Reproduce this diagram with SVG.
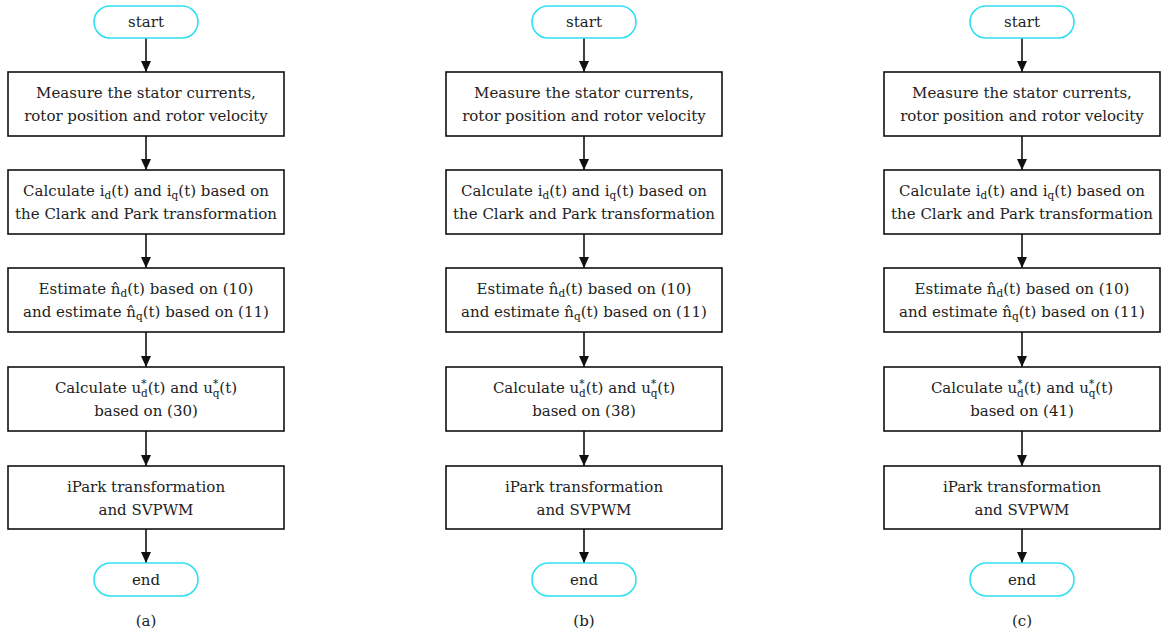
<svg xmlns="http://www.w3.org/2000/svg" width="1163" height="639" viewBox="0 0 1163 639">
<defs>
<style>
text{font-family:'DejaVu Serif','Liberation Serif',serif;font-size:15px;fill:#222;text-anchor:middle}
.s{font-size:10.5px}
.box{fill:#fff;stroke:#111;stroke-width:1.6}
.term{fill:#fff;stroke:#2ee0f2;stroke-width:1.6}
.c{stroke:#111;stroke-width:1.6;fill:none;marker-end:url(#ah)}
</style>
<marker id="ah" markerUnits="userSpaceOnUse" markerWidth="12" markerHeight="12" viewBox="0 0 12 12" refX="11" refY="6" orient="auto">
<path d="M0,1 L11,6 L0,11 Z" fill="#111"/>
</marker>
</defs>
<rect width="1163" height="639" fill="#fff"/>

<g id="connectors">
<line class="c" x1="146" y1="38" x2="146" y2="72"/><line class="c" x1="146" y1="136" x2="146" y2="170"/><line class="c" x1="146" y1="234" x2="146" y2="268"/><line class="c" x1="146" y1="332" x2="146" y2="367"/><line class="c" x1="146" y1="431" x2="146" y2="466"/><line class="c" x1="146" y1="529" x2="146" y2="563"/>
<line class="c" x1="584" y1="38" x2="584" y2="72"/><line class="c" x1="584" y1="136" x2="584" y2="170"/><line class="c" x1="584" y1="234" x2="584" y2="268"/><line class="c" x1="584" y1="332" x2="584" y2="367"/><line class="c" x1="584" y1="431" x2="584" y2="466"/><line class="c" x1="584" y1="529" x2="584" y2="563"/>
<line class="c" x1="1022" y1="38" x2="1022" y2="72"/><line class="c" x1="1022" y1="136" x2="1022" y2="170"/><line class="c" x1="1022" y1="234" x2="1022" y2="268"/><line class="c" x1="1022" y1="332" x2="1022" y2="367"/><line class="c" x1="1022" y1="431" x2="1022" y2="466"/><line class="c" x1="1022" y1="529" x2="1022" y2="563"/>
</g>

<!-- Column a -->
<g id="a-start"><rect class="term" x="94" y="6" width="104" height="32" rx="16"/><text x="146" y="27">start</text></g>
<g id="a-measure"><rect class="box" x="8" y="72" width="276" height="64"/><text x="146" y="98">Measure the stator currents,</text><text x="146" y="121">rotor position and rotor velocity</text></g>
<g id="a-clark"><rect class="box" x="8" y="170" width="276" height="64"/><text x="146" y="196">Calculate i<tspan class="s" dy="3">d</tspan><tspan dy="-3">(t) and i</tspan><tspan class="s" dy="3">q</tspan><tspan dy="-3">(t) based on</tspan></text><text x="146" y="219">the Clark and Park transformation</text></g>
<g id="a-estimate"><rect class="box" x="8" y="268" width="276" height="64"/><text x="146" y="294">Estimate n̂<tspan class="s" dy="3">d</tspan><tspan dy="-3">(t) based on (10)</tspan></text><text x="146" y="317">and estimate n̂<tspan class="s" dy="3">q</tspan><tspan dy="-3">(t) based on (11)</tspan></text></g>
<g id="a-calc"><rect class="box" x="8" y="367" width="276" height="64"/><text x="146" y="393">Calculate u<tspan class="s" dy="-6">*</tspan><tspan class="s" dx="-5.5" dy="10">d</tspan><tspan dy="-4">(t) and u</tspan><tspan class="s" dy="-6">*</tspan><tspan class="s" dx="-5.5" dy="10">q</tspan><tspan dy="-4">(t)</tspan></text><text x="146" y="416">based on (30)</text></g>
<g id="a-ipark"><rect class="box" x="8" y="466" width="276" height="63"/><text x="146" y="492">iPark transformation</text><text x="146" y="515">and SVPWM</text></g>
<g id="a-end"><rect class="term" x="94" y="563" width="104" height="33" rx="16.5"/><text x="146" y="585">end</text></g>
<g id="a-label"><text x="146" y="626">(a)</text></g>

<!-- Column b -->
<g id="b-start"><rect class="term" x="532" y="6" width="104" height="32" rx="16"/><text x="584" y="27">start</text></g>
<g id="b-measure"><rect class="box" x="446" y="72" width="276" height="64"/><text x="584" y="98">Measure the stator currents,</text><text x="584" y="121">rotor position and rotor velocity</text></g>
<g id="b-clark"><rect class="box" x="446" y="170" width="276" height="64"/><text x="584" y="196">Calculate i<tspan class="s" dy="3">d</tspan><tspan dy="-3">(t) and i</tspan><tspan class="s" dy="3">q</tspan><tspan dy="-3">(t) based on</tspan></text><text x="584" y="219">the Clark and Park transformation</text></g>
<g id="b-estimate"><rect class="box" x="446" y="268" width="276" height="64"/><text x="584" y="294">Estimate n̂<tspan class="s" dy="3">d</tspan><tspan dy="-3">(t) based on (10)</tspan></text><text x="584" y="317">and estimate n̂<tspan class="s" dy="3">q</tspan><tspan dy="-3">(t) based on (11)</tspan></text></g>
<g id="b-calc"><rect class="box" x="446" y="367" width="276" height="64"/><text x="584" y="393">Calculate u<tspan class="s" dy="-6">*</tspan><tspan class="s" dx="-5.5" dy="10">d</tspan><tspan dy="-4">(t) and u</tspan><tspan class="s" dy="-6">*</tspan><tspan class="s" dx="-5.5" dy="10">q</tspan><tspan dy="-4">(t)</tspan></text><text x="584" y="416">based on (38)</text></g>
<g id="b-ipark"><rect class="box" x="446" y="466" width="276" height="63"/><text x="584" y="492">iPark transformation</text><text x="584" y="515">and SVPWM</text></g>
<g id="b-end"><rect class="term" x="532" y="563" width="104" height="33" rx="16.5"/><text x="584" y="585">end</text></g>
<g id="b-label"><text x="584" y="626">(b)</text></g>

<!-- Column c -->
<g id="c-start"><rect class="term" x="970" y="6" width="104" height="32" rx="16"/><text x="1022" y="27">start</text></g>
<g id="c-measure"><rect class="box" x="884" y="72" width="276" height="64"/><text x="1022" y="98">Measure the stator currents,</text><text x="1022" y="121">rotor position and rotor velocity</text></g>
<g id="c-clark"><rect class="box" x="884" y="170" width="276" height="64"/><text x="1022" y="196">Calculate i<tspan class="s" dy="3">d</tspan><tspan dy="-3">(t) and i</tspan><tspan class="s" dy="3">q</tspan><tspan dy="-3">(t) based on</tspan></text><text x="1022" y="219">the Clark and Park transformation</text></g>
<g id="c-estimate"><rect class="box" x="884" y="268" width="276" height="64"/><text x="1022" y="294">Estimate n̂<tspan class="s" dy="3">d</tspan><tspan dy="-3">(t) based on (10)</tspan></text><text x="1022" y="317">and estimate n̂<tspan class="s" dy="3">q</tspan><tspan dy="-3">(t) based on (11)</tspan></text></g>
<g id="c-calc"><rect class="box" x="884" y="367" width="276" height="64"/><text x="1022" y="393">Calculate u<tspan class="s" dy="-6">*</tspan><tspan class="s" dx="-5.5" dy="10">d</tspan><tspan dy="-4">(t) and u</tspan><tspan class="s" dy="-6">*</tspan><tspan class="s" dx="-5.5" dy="10">q</tspan><tspan dy="-4">(t)</tspan></text><text x="1022" y="416">based on (41)</text></g>
<g id="c-ipark"><rect class="box" x="884" y="466" width="276" height="63"/><text x="1022" y="492">iPark transformation</text><text x="1022" y="515">and SVPWM</text></g>
<g id="c-end"><rect class="term" x="970" y="563" width="104" height="33" rx="16.5"/><text x="1022" y="585">end</text></g>
<g id="c-label"><text x="1022" y="626">(c)</text></g>
</svg>
